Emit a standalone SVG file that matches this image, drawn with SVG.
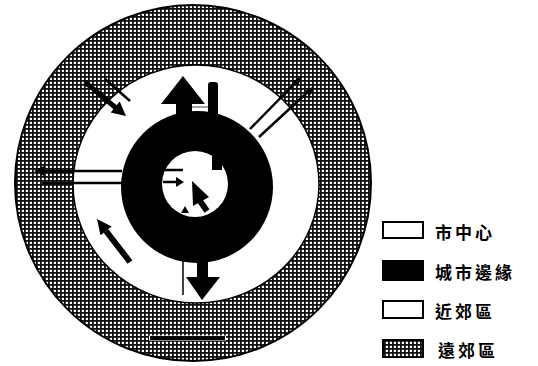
<svg xmlns="http://www.w3.org/2000/svg" width="538" height="366" viewBox="0 0 538 366">
  <defs>
    <pattern id="hatch" width="4" height="4" patternUnits="userSpaceOnUse">
      <rect width="4" height="4" fill="#fff"/>
      <rect x="0" y="0" width="4" height="1.8" fill="#111"/>
      <rect x="0" y="0" width="1.8" height="4" fill="#111"/>
    </pattern>
  </defs>
  <style>
    .blk { fill: #000; }
    .ln { stroke: #000; stroke-width: 2.5; fill: none; }
    .thin { stroke: #000; stroke-width: 1.5; fill: none; }
    .lbl { font-family: "Noto Sans CJK TC", "Noto Sans CJK SC", sans-serif; font-size: 17px; font-weight: 700; letter-spacing: 3px; fill: #000; dominant-baseline: central; }
    .box { stroke: #000; stroke-width: 2; }
  </style>
  <rect width="538" height="366" fill="#fff"/>

  <g id="zones">
    <g id="outer-suburb"><circle cx="193" cy="183" r="178" fill="url(#hatch)" stroke="#000" stroke-width="2"/></g>
    <g id="inner-suburb"><ellipse cx="196" cy="184" rx="123" ry="119" fill="#fff" stroke="#000" stroke-width="1.5"/></g>
    <g id="urban-fringe"><circle cx="197" cy="187" r="76" fill="#000"/></g>
    <g id="city-centre"><circle cx="195" cy="184" r="33" fill="#fff"/></g>
  </g>

  <g id="connectors">
    <!-- top -->
    <polygon class="blk" points="183,76 161,104 205,104"/>
    <rect class="blk" x="176" y="103" width="16" height="14"/>
    <rect class="blk" x="208" y="82" width="10" height="34" rx="3"/>
    <line x1="192" y1="107" x2="208" y2="107" stroke="#444" stroke-width="1"/>
    <rect class="blk" x="212" y="148" width="10" height="22"/>
    <!-- bottom -->
    <line class="thin" x1="183" y1="258" x2="183" y2="295"/>
    <rect class="blk" x="197" y="255" width="11" height="23"/>
    <polygon class="blk" points="186,277 220,277 202,300"/>
    <polygon class="blk" points="185,206 181,213 189,213"/>
    <!-- top-left -->
    <line x1="85" y1="82" x2="116" y2="108" stroke="#000" stroke-width="5"/>
    <polygon class="blk" points="126,116 110.7,112.4 119.7,101.6"/>
    <line class="ln" x1="105" y1="79" x2="130" y2="101"/>
    <!-- left -->
    <line class="ln" x1="42" y1="171" x2="122" y2="171"/>
    <polygon class="blk" points="34,171 44,166 44,176"/>
    <line class="ln" x1="42" y1="183" x2="122" y2="183"/>
    <line class="ln" x1="163" y1="170" x2="183" y2="170"/>
    <line class="ln" x1="163" y1="182" x2="177" y2="182"/>
    <polygon class="blk" points="184,182 176,177 176,187"/>
    <!-- top-right -->
    <line class="ln" x1="250" y1="129" x2="299" y2="79"/>
    <line class="ln" x1="259" y1="137" x2="311" y2="89"/>
    <polygon class="blk" points="302,76 293,81 298,86"/>
    <polygon class="blk" points="314,86 305,91 310,96"/>
    <!-- lower-left -->
    <line x1="130" y1="262" x2="106" y2="231" stroke="#000" stroke-width="6"/>
    <polygon class="blk" points="97,219 111.7,226.6 100.5,235.2"/>
    <!-- bottom bar -->
    <line x1="149" y1="338" x2="226" y2="338" stroke="#fff" stroke-width="5"/>
    <line x1="150" y1="338" x2="225" y2="338" stroke="#000" stroke-width="4"/>
    <!-- centre cursor -->
    <polygon class="blk" points="192,181 193,206 209,197"/>
    <line x1="200" y1="201" x2="207" y2="211" stroke="#000" stroke-width="6"/>
  </g>

  <g id="legend">
    <g id="legend-centre">
      <rect class="box" x="383" y="222" width="40" height="16" fill="#fff"/>
      <text class="lbl" x="435" y="231">市中心</text>
    </g>
    <g id="legend-fringe">
      <rect class="box" x="383" y="261" width="40" height="19" fill="#000"/>
      <text class="lbl" x="435" y="271">城市邊緣</text>
    </g>
    <g id="legend-inner">
      <rect class="box" x="383" y="301" width="40" height="17" fill="#fff"/>
      <text class="lbl" x="435" y="310">近郊區</text>
    </g>
    <g id="legend-outer">
      <rect class="box" x="383" y="340" width="40" height="17" fill="url(#hatch)"/>
      <text class="lbl" x="438" y="349">遠郊區</text>
    </g>
  </g>
</svg>
